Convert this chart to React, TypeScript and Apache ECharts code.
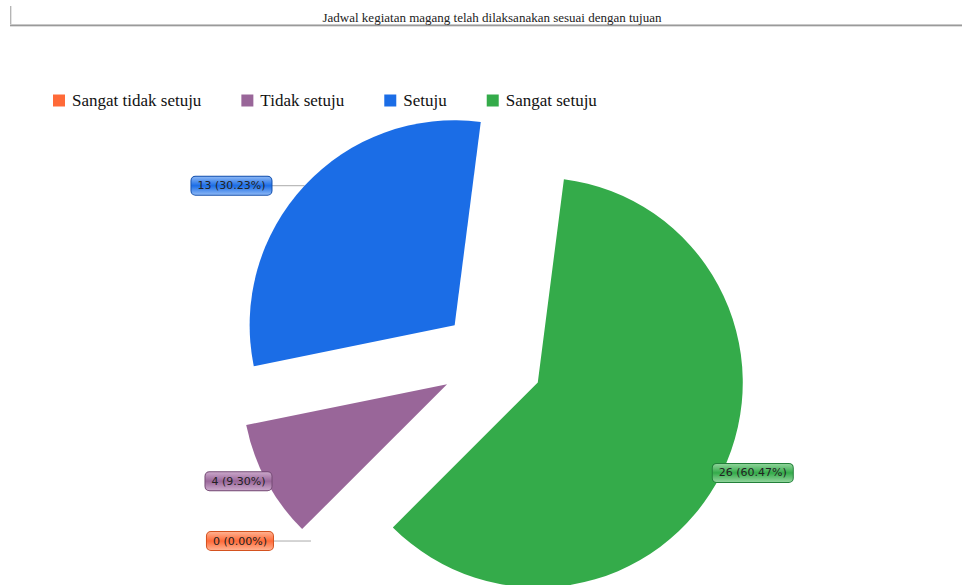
import React, { useEffect, useRef } from "react";
import * as echarts from "echarts";

const titleText = "Jadwal kegiatan magang telah dilaksanakan sesuai dengan tujuan";
const categories = ["Sangat tidak setuju", "Tidak setuju", "Setuju", "Sangat setuju"];
const values = [0, 4, 13, 26];

const colors = ["#ff6a38", "#996699", "#1b6de6", "#34ab4a"];
const lightColors = ["#ffb08f", "#c9a6c9", "#8ab6f5", "#8fd39a"];
const borderColors = ["#d4521f", "#744a74", "#1450ad", "#23803a"];
// per-slice label placement tweaks (styling)
const lineLen2 = [38, 0, 33, 0];
const labelDist = [0, -5, 0, -9];
const showLine = [true, false, true, false];

export default function App() {
  const ref = useRef<HTMLDivElement>(null);
  useEffect(() => {
    if (!ref.current) return;
    const chart = echarts.init(ref.current, null, { renderer: "svg" });
    const data = categories.map((name, i) => ({
      name,
      value: values[i],
      selected: true,
      itemStyle: { color: colors[i] },
      label: {
        distanceToLabelLine: labelDist[i],
        backgroundColor: new echarts.graphic.LinearGradient(0, 0, 0, 1, [
          { offset: 0, color: lightColors[i] },
          { offset: 0.5, color: colors[i] },
          { offset: 1, color: lightColors[i] },
        ]),
        borderColor: borderColors[i],
      },
      labelLine: { show: showLine[i], length: 0, length2: lineLen2[i] },
    }));
    chart.setOption({
      animation: false,
      graphic: [
        {
          type: "line",
          shape: { x1: 10.5, y1: 6, x2: 10.5, y2: 25 },
          style: { stroke: "#b5b5b5", lineWidth: 1 },
        },
        {
          type: "line",
          shape: { x1: 11.5, y1: 6, x2: 11.5, y2: 25 },
          style: { stroke: "#e4e4e4", lineWidth: 1 },
        },
        {
          type: "line",
          shape: { x1: 10, y1: 24.5, x2: 962, y2: 24.5 },
          style: { stroke: "#c8c8c8", lineWidth: 1 },
        },
        {
          type: "line",
          shape: { x1: 10, y1: 25.5, x2: 962, y2: 25.5 },
          style: { stroke: "#9a9a9a", lineWidth: 1 },
        },
        {
          type: "line",
          shape: { x1: 10, y1: 26.5, x2: 962, y2: 26.5 },
          style: { stroke: "#dedede", lineWidth: 1 },
        },
        {
          type: "text",
          x: 492,
          y: 17,
          style: {
            text: titleText,
            fill: "#222",
            font: '13px "Liberation Serif", serif',
            textAlign: "center",
            textVerticalAlign: "middle",
          },
        },
      ],
      legend: {
        data: categories,
        left: 48,
        top: 87,
        itemWidth: 12,
        itemHeight: 12,
        itemGap: 40,
        icon: "rect",
        selectedMode: false,
        textStyle: {
          fontFamily: '"Liberation Serif", "Times New Roman", serif',
          fontSize: 17,
          color: "#111",
          padding: [0, 0, 0, 2],
        },
      },
      series: [
        {
          type: "pie",
          center: [492, 360],
          radius: 205,
          startAngle: 225,
          clockwise: true,
          selectedMode: "multiple",
          selectedOffset: 51,
          avoidLabelOverlap: false,
          percentPrecision: 2,
          emphasis: { disabled: true },
          label: {
            show: true,
            position: "outside",
            fontFamily: "DejaVu Sans",
            fontSize: 11,
            color: "#222",
            padding: [4, 6, 3, 6],
            borderWidth: 1,
            borderRadius: 4,
            formatter: (p: any) => `${p.value} (${Number(p.percent).toFixed(2)}%)`,
          },
          labelLine: {
            lineStyle: { color: "#aaaaaa", width: 1 },
          },
          data,
        },
      ],
    });
    return () => chart.dispose();
  }, []);
  return (
    <div
      ref={ref}
      style={{ position: "absolute", left: 0, top: 0, width: 962, height: 585 }}
    />
  );
}
